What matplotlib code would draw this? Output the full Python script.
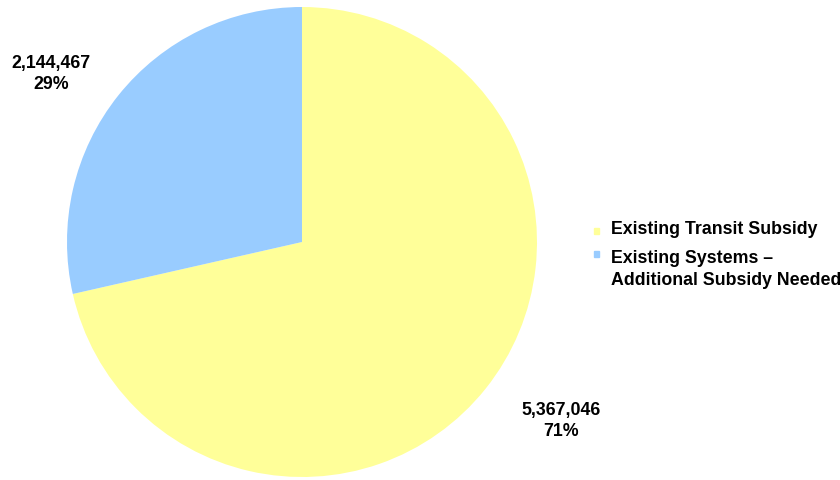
import matplotlib.pyplot as plt

plt.rcParams['font.family'] = ['Liberation Sans', 'DejaVu Sans']

labels = ['Existing Transit Subsidy', 'Existing Systems \u2013\nAdditional Subsidy Needed']
values = [5367046, 2144467]
colors = ['#FFFF99', '#99CCFF']

W, H = 840, 481
fig = plt.figure(figsize=(W / 100, H / 100), dpi=100)

# pie centred at (302, 243) px with radius 235 px
cx, cy, r = 302, 243, 235
ax = fig.add_axes([(cx - r) / W, (H - cy - r) / H, 2 * r / W, 2 * r / H])
ax.pie(values, colors=colors, startangle=90, counterclock=False, radius=1,
       wedgeprops=dict(linewidth=0))
ax.set_xlim(-1, 1)
ax.set_ylim(-1, 1)
ax.set_aspect('equal')
ax.axis('off')

total = sum(values)
label_pos = [(561, 421), (51, 74)]
for v, (px, py) in zip(values, label_pos):
    fig.text(px / W, 1 - py / H, f'{v:,}\n{v / total * 100:.0f}%',
             ha='center', va='center', fontsize=12.8, fontweight='bold',
             linespacing=1.25)

# legend: text top y and marker centre y, in pixels
text_top = [221, 250]
mark_y = [232, 255]
for lab, col, ty, my in zip(labels, colors, text_top, mark_y):
    fig.patches.append(plt.Rectangle((594 / W, 1 - (my + 3) / H), 5 / W, 6 / H,
                                     transform=fig.transFigure, color=col))
    fig.text(611 / W, 1 - ty / H, lab, ha='left', va='top',
             fontsize=12.8, fontweight='bold', linespacing=1.38)

fig.savefig('out.png', dpi=100)
